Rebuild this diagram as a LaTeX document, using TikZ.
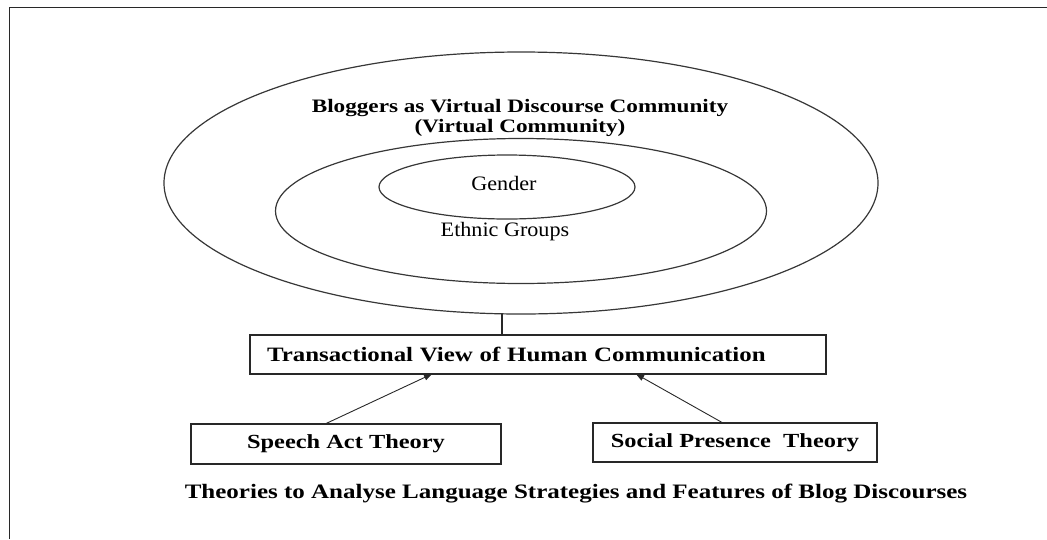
\documentclass[tikz,border=0pt]{standalone}
\usepackage{fontspec}
\usepackage{tikz}
\usetikzlibrary{arrows.meta,shapes.geometric,positioning,calc}
\usepackage{xcolor}
\definecolor{linegray}{RGB}{55, 55, 55}
\definecolor{framegray}{RGB}{40, 40, 40}
\newfontfamily\labelfont[FakeStretch=1.08]{Liberation Serif}
\newfontfamily\headfont[FakeStretch=1.22]{Liberation Serif}

\begin{document}
\begin{tikzpicture}[
  x=1pt,y=-1pt,
  ring/.style={draw=linegray,line width=1.2pt,ellipse,inner sep=0pt,outer sep=0pt},
  tag/.style={font=\labelfont\fontsize{20.5}{22}\selectfont},
  head/.style={font=\headfont\bfseries\fontsize{19}{20}\selectfont,align=center},
  theorybox/.style={draw=framegray,line width=1.2pt,inner sep=0pt,outer sep=0pt,
                    font=\headfont\bfseries\fontsize{20}{22}\selectfont},
  arr/.style={-{Triangle[length=8pt,width=6pt]},draw=framegray,line width=0.9pt},
]
\useasboundingbox (0,0) rectangle (1047,539);

%% page frame (left and top edges)
\draw[framegray,line width=1pt] (9.5,539) -- (9.5,7) -- (1047,7);

%% three nested communities
\node[ring,minimum width=714pt,minimum height=262pt] (community) at (521,183) {};
\node[ring,minimum width=491pt,minimum height=145pt] (ethnic) at (521,211) {};
\node[ring,minimum width=256pt,minimum height=64pt] (gender) at (507,187) {};

\node[head] (title) at (520,117.5)
  {Bloggers as Virtual Discourse Community\\(Virtual Community)};
\node[tag] (genderlbl) at (504,183) {Gender};
\node[tag] (ethniclbl) at (505,232) {Ethnic Groups};

%% communication model
\node[theorybox,minimum height=39pt,text width=542pt,align=left,inner xsep=17pt,
      font=\headfont\bfseries\fontsize{20.4}{22}\selectfont]
  (view) at (538,354.5) {Transactional View of Human Communication};

\coordinate (stem) at (502,335);
\draw[draw=framegray,line width=1.1pt] (stem) -- (stem |- community.south);

%% two theories feeding the model
\node[theorybox,minimum width=310pt,minimum height=40pt] (speech) at (346,444)
  {Speech Act Theory};
\node[theorybox,minimum width=284pt,minimum height=39pt] (social) at (735,442.5)
  {Social Presence\ \ Theory};

\draw[arr] ([xshift=-21pt]speech.north) -- ([xshift=-106pt]view.south);
\draw[arr] ([xshift=-12pt]social.north) -- ([xshift=98pt]view.south);

\node[font=\headfont\bfseries\fontsize{20.5}{22}\selectfont] (caption) at (576,494)
  {Theories\ to Analyse Language Strategies\ and Features\ of Blog Discourses};

\end{tikzpicture}
\end{document}
